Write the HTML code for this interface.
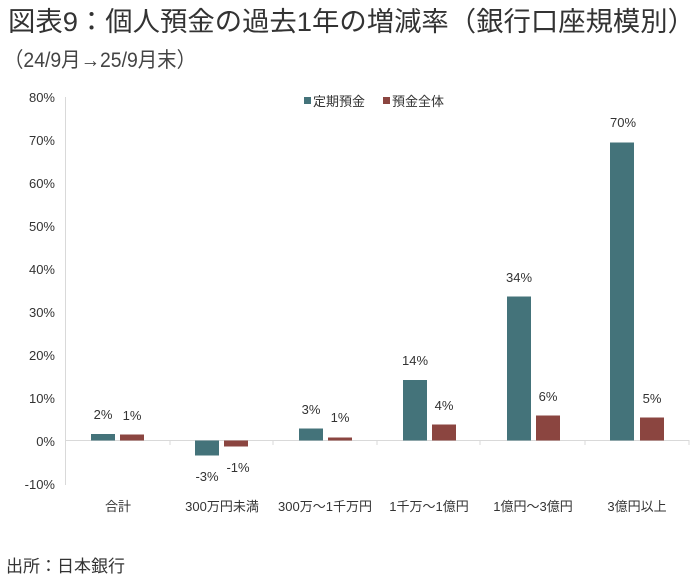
<!DOCTYPE html>
<html><head><meta charset="utf-8"><style>
html,body{margin:0;padding:0;background:#fff;}
svg{display:block;font-family:"Liberation Sans","Noto Sans CJK JP",sans-serif;}
</style></head><body>
<svg width="700" height="580" viewBox="0 0 700 580">
<text x="8" y="31" font-size="27" fill="#333" textLength="687" lengthAdjust="spacingAndGlyphs">図表9：個人預金の過去1年の増減率（銀行口座規模別）</text>
<text x="4" y="67" font-size="21" fill="#444" textLength="192" lengthAdjust="spacingAndGlyphs">（24/9月→25/9月末）</text>
<g font-size="13" fill="#333" text-anchor="end">
<text x="55" y="102">80%</text><text x="55" y="145">70%</text><text x="55" y="188">60%</text><text x="55" y="231">50%</text><text x="55" y="274">40%</text><text x="55" y="317">30%</text><text x="55" y="360">20%</text><text x="55" y="403">10%</text><text x="55" y="446">0%</text><text x="55" y="489">-10%</text>
</g>
<line x1="65.5" y1="97" x2="65.5" y2="485" stroke="#d9d9d9"/>
<line x1="65" y1="440.5" x2="689" y2="440.5" stroke="#d9d9d9"/>
<g stroke="#d9d9d9"><line x1="170" y1="440" x2="170" y2="445"/><line x1="273" y1="440" x2="273" y2="445"/><line x1="377" y1="440" x2="377" y2="445"/><line x1="480" y1="440" x2="480" y2="445"/><line x1="585" y1="440" x2="585" y2="445"/><line x1="689" y1="440" x2="689" y2="445"/></g>
<g fill="#44737a">
<rect x="91" y="434" width="24" height="6.5"/>
<rect x="195" y="440.5" width="24" height="15"/>
<rect x="299" y="428.5" width="24" height="12"/>
<rect x="403" y="380" width="24" height="60.5"/>
<rect x="507" y="296.5" width="24" height="144"/>
<rect x="610" y="142.5" width="24" height="298"/>
</g>
<g fill="#8b4540">
<rect x="120" y="434.5" width="24" height="6"/>
<rect x="224" y="440.5" width="24" height="6"/>
<rect x="328" y="437.5" width="24" height="3"/>
<rect x="432" y="424.5" width="24" height="16"/>
<rect x="536" y="415.5" width="24" height="25"/>
<rect x="640" y="417.5" width="24" height="23"/>
</g>
<g font-size="13" fill="#333" text-anchor="middle">
<text x="103" y="419">2%</text><text x="132" y="420">1%</text>
<text x="207" y="481">-3%</text><text x="238" y="472">-1%</text>
<text x="311" y="414">3%</text><text x="340" y="422">1%</text>
<text x="415" y="365">14%</text><text x="444" y="410">4%</text>
<text x="519" y="282">34%</text><text x="548" y="401">6%</text>
<text x="623" y="127">70%</text><text x="652" y="403">5%</text>
</g>
<g font-size="13" fill="#333" text-anchor="middle">
<text x="118" y="511">合計</text><text x="222" y="511">300万円未満</text><text x="325" y="511">300万～1千万円</text><text x="429" y="511">1千万～1億円</text><text x="533" y="511">1億円～3億円</text><text x="637" y="511">3億円以上</text>
</g>
<rect x="304" y="97" width="7" height="7" fill="#44737a"/>
<text x="313" y="106" font-size="13" fill="#333">定期預金</text>
<rect x="383" y="97" width="7" height="7" fill="#8b4540"/>
<text x="392" y="106" font-size="13" fill="#333">預金全体</text>
<text x="6" y="572" font-size="17" fill="#333">出所：日本銀行</text>
</svg>
</body></html>
